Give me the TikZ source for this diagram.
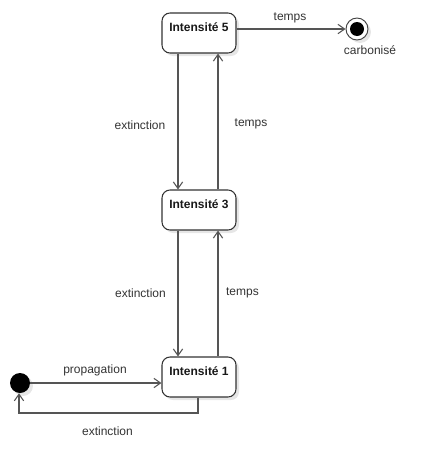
\documentclass[tikz,border=0pt]{standalone}
\usepackage{fontspec}
\setmainfont{Liberation Sans}
\usetikzlibrary{arrows.meta}
\definecolor{linec}{HTML}{555555}
\definecolor{textc}{HTML}{333333}
\definecolor{shadowc}{HTML}{E6E6E6}
\begin{document}
\begin{tikzpicture}[x=0.75pt,y=-0.75pt,
  every node/.style={font=\fontsize{9}{11}\selectfont,text=textc},
  statebox/.style={draw=black!80,line width=0.8pt,fill=white,rounded corners=6pt,
     minimum width=55.5pt,minimum height=30pt,inner sep=0pt},
  stateshadow/.style={fill=shadowc,rounded corners=6pt,minimum width=55.5pt,minimum height=30pt,inner sep=0pt},
  statename/.style={font=\bfseries\fontsize{9}{11}\selectfont,text=black!90},
  edge/.style={draw=linec,line width=0.9pt,-{Straight Barb[length=5pt,width=7pt,line width=0.8pt]}},
  lbl/.style={inner sep=1pt}]
\useasboundingbox (0,0) rectangle (443,475);
% shadows
\node[stateshadow] at (202,36) {};
\node[stateshadow] at (202,213) {};
\node[stateshadow] at (202,380) {};
\fill[shadowc] (360,32) circle (11);
\fill[shadowc] (23,386) circle (10);
% states
\node[statebox] (s5) at (199,33) {};
\node[statename] (t5) at (199,27) {Intensité 5};
\node[statebox] (s3) at (199,210) {};
\node[statename] (t3) at (199,204) {Intensité 3};
\node[statebox] (s1) at (199,377) {};
\node[statename] (t1) at (199,371) {Intensité 1};
% initial and final
\node[circle,fill=black,minimum size=15pt,inner sep=0pt] (init) at (20,383) {};
\node[circle,draw=black!75,line width=0.7pt,fill=white,minimum size=16.5pt,inner sep=0pt] (fin) at (357,29) {};
\node[circle,fill=black,minimum size=10.5pt,inner sep=0pt] (finin) at (fin) {};
\node (carb) at (370,50) {carbonisé};
% coordinates for vertical edges
\coordinate (a5) at ([xshift=-15.75pt]s5.south);
\coordinate (b5) at ([xshift=14.25pt]s5.south);
\coordinate (a3t) at ([xshift=-15.75pt]s3.north);
\coordinate (b3t) at ([xshift=14.25pt]s3.north);
\coordinate (a3b) at ([xshift=-15.75pt]s3.south);
\coordinate (b3b) at ([xshift=14.25pt]s3.south);
\coordinate (a1) at ([xshift=-15.75pt]s1.north);
\coordinate (b1) at ([xshift=14.25pt]s1.north);
\coordinate (r1) at ([xshift=-0.75pt]s1.south);
\coordinate (c1) at (198,413);
\coordinate (c2) at (19,413);
% edges
\draw[edge] (a5) -- (a3t);
\draw[edge] (b3t) -- (b5);
\draw[edge] (a3b) -- (a1);
\draw[edge] (b1) -- (b3b);
\draw[edge] (s5.east |- fin) -- (fin.west);
\draw[edge] (init.east) -- (init -| s1.west);
\draw[edge] (r1) -- (c1) -- (c2) -- (init.south -| c2);
% labels
\node[lbl] at (140,125) {extinction};
\node[lbl] at (251,124) {temps};
\node[lbl] at (140.5,293) {extinction};
\node[lbl] at (242.5,293) {temps};
\node[lbl] at (290,18) {temps};
\node[lbl] at (95,370) {propagation};
\node[lbl] at (107.5,431) {extinction};
\end{tikzpicture}
\end{document}
